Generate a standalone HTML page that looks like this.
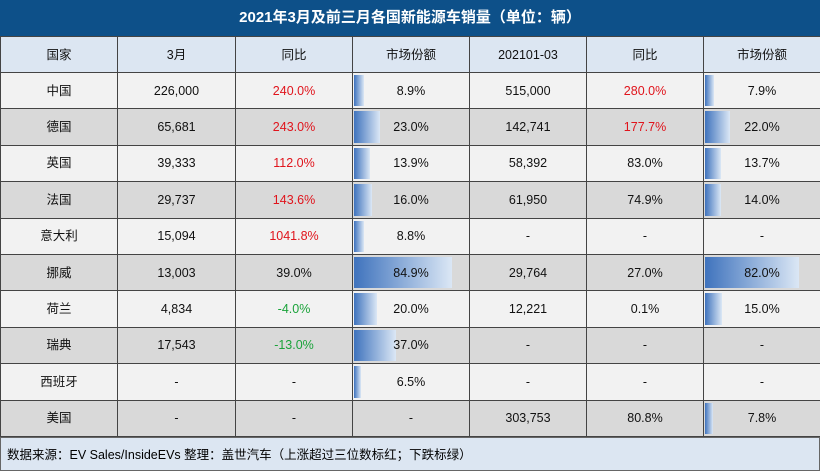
<!DOCTYPE html>
<html><head><meta charset="utf-8"><style>
body{margin:0;width:820px;height:473px;overflow:hidden;background:#fff;font-family:"Liberation Sans","Noto Sans CJK SC",sans-serif;}
.t{position:absolute;left:0;top:0;width:820px;height:36px;background:#0d5089;color:#fff;font-weight:bold;font-size:15px;text-align:center;line-height:36px;}
table{position:absolute;left:0;top:36px;border-collapse:collapse;table-layout:fixed;width:820px;}
td{border:1px solid #444;height:35.4px;padding:0;text-align:center;font-size:12.5px;line-height:14px;color:#111;position:relative;vertical-align:middle;}
td.c{font-size:12.5px;}
tr.h td{background:#dce6f2;height:35px;}
tr.a td{background:#f2f2f2;}
tr.b td{background:#d9d9d9;}
.r{color:#e0141c!important}.g{color:#1aa33a!important}
.bar{position:absolute;left:1px;top:2px;bottom:2px;background:linear-gradient(90deg,#3f73bd,#dbe7f5);}
td span{position:relative;}
.f{position:absolute;left:0;top:437px;height:34px;background:#dce6f2;border:1px solid #666;font-size:12.5px;line-height:34px;padding-left:6px;box-sizing:border-box;width:820px;}
</style></head><body>
<div class="t">2021年3月及前三月各国新能源车销量（单位：辆）</div>
<table>
<colgroup><col style="width:117px"><col style="width:118px"><col style="width:117px"><col style="width:117px"><col style="width:117px"><col style="width:117px"><col style="width:117px"></colgroup>
<tr class="h"><td>国家</td><td>3月</td><td>同比</td><td>市场份额</td><td>202101-03</td><td>同比</td><td>市场份额</td></tr>
<tr class="a"><td>中国</td><td>226,000</td><td class="r">240.0%</td><td><div class="bar" style="width:10px"></div><span>8.9%</span></td><td>515,000</td><td class="r">280.0%</td><td><div class="bar" style="width:9px"></div><span>7.9%</span></td></tr>
<tr class="b"><td>德国</td><td>65,681</td><td class="r">243.0%</td><td><div class="bar" style="width:26px"></div><span>23.0%</span></td><td>142,741</td><td class="r">177.7%</td><td><div class="bar" style="width:25px"></div><span>22.0%</span></td></tr>
<tr class="a"><td>英国</td><td>39,333</td><td class="r">112.0%</td><td><div class="bar" style="width:16px"></div><span>13.9%</span></td><td>58,392</td><td>83.0%</td><td><div class="bar" style="width:16px"></div><span>13.7%</span></td></tr>
<tr class="b"><td>法国</td><td>29,737</td><td class="r">143.6%</td><td><div class="bar" style="width:18px"></div><span>16.0%</span></td><td>61,950</td><td>74.9%</td><td><div class="bar" style="width:16px"></div><span>14.0%</span></td></tr>
<tr class="a"><td>意大利</td><td>15,094</td><td class="r">1041.8%</td><td><div class="bar" style="width:10px"></div><span>8.8%</span></td><td>-</td><td>-</td><td>-</td></tr>
<tr class="b"><td>挪威</td><td>13,003</td><td>39.0%</td><td><div class="bar" style="width:98px"></div><span>84.9%</span></td><td>29,764</td><td>27.0%</td><td><div class="bar" style="width:94px"></div><span>82.0%</span></td></tr>
<tr class="a"><td>荷兰</td><td>4,834</td><td class="g">-4.0%</td><td><div class="bar" style="width:23px"></div><span>20.0%</span></td><td>12,221</td><td>0.1%</td><td><div class="bar" style="width:17px"></div><span>15.0%</span></td></tr>
<tr class="b"><td>瑞典</td><td>17,543</td><td class="g">-13.0%</td><td><div class="bar" style="width:42px"></div><span>37.0%</span></td><td>-</td><td>-</td><td>-</td></tr>
<tr class="a"><td>西班牙</td><td>-</td><td>-</td><td><div class="bar" style="width:7px"></div><span>6.5%</span></td><td>-</td><td>-</td><td>-</td></tr>
<tr class="b"><td>美国</td><td>-</td><td>-</td><td>-</td><td>303,753</td><td>80.8%</td><td><div class="bar" style="width:8px"></div><span>7.8%</span></td></tr>
</table>
<div class="f">数据来源：EV Sales/InsideEVs 整理：盖世汽车（上涨超过三位数标红；下跌标绿）</div>
</body></html>
